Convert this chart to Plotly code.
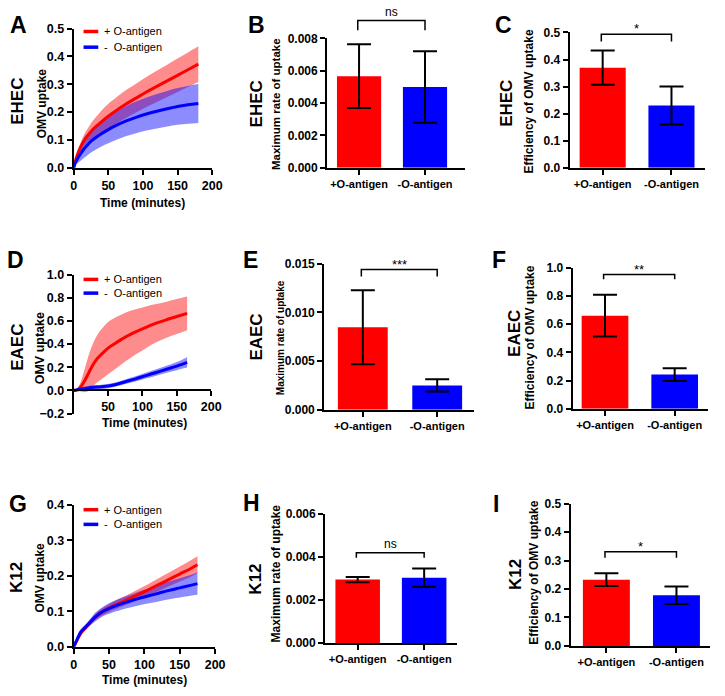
import plotly.graph_objects as go

W, H = 725, 696
FONT = "Liberation Sans, Arial, sans-serif"
RED = "#ff0000"
BLUE = "#0000ff"
RED_BAND = "rgba(255,0,0,0.45)"
BLUE_BAND = "rgba(0,0,255,0.45)"

# ---------------- data ----------------
# Panel A (EHEC kinetics)
ehec_time = [0, 2, 5, 10, 15, 20, 25, 30, 40, 50, 60, 75, 90, 105, 120, 135, 150, 165, 180]
ehec_plus_mean = [0, 0.02, 0.045, 0.075, 0.098, 0.115, 0.13, 0.143, 0.165, 0.185, 0.203, 0.228, 0.25, 0.272, 0.292, 0.312, 0.332, 0.352, 0.372]
ehec_plus_sd = [0, 0.005, 0.01, 0.015, 0.02, 0.025, 0.03, 0.033, 0.04, 0.045, 0.047, 0.05, 0.052, 0.054, 0.056, 0.058, 0.06, 0.062, 0.064]
ehec_minus_mean = [0, 0.015, 0.03, 0.05, 0.068, 0.082, 0.095, 0.105, 0.122, 0.137, 0.15, 0.167, 0.181, 0.193, 0.203, 0.212, 0.22, 0.226, 0.231]
ehec_minus_sd = [0, 0.008, 0.015, 0.025, 0.032, 0.037, 0.04, 0.043, 0.046, 0.049, 0.051, 0.054, 0.057, 0.059, 0.062, 0.064, 0.066, 0.068, 0.07]

# Panel D (EAEC kinetics)
eaec_time = [0, 5, 10, 15, 20, 25, 30, 35, 40, 50, 60, 75, 90, 105, 120, 135, 150, 165]
eaec_plus_mean = [0, 0.005, 0.03, 0.075, 0.13, 0.19, 0.24, 0.28, 0.31, 0.365, 0.405, 0.46, 0.505, 0.545, 0.58, 0.61, 0.638, 0.665]
eaec_plus_sd = [0, 0.01, 0.04, 0.09, 0.14, 0.17, 0.19, 0.205, 0.215, 0.225, 0.222, 0.21, 0.195, 0.18, 0.165, 0.155, 0.15, 0.145]
eaec_minus_mean = [0, 0.005, 0.01, 0.015, 0.02, 0.025, 0.028, 0.03, 0.032, 0.038, 0.05, 0.075, 0.1, 0.128, 0.155, 0.183, 0.21, 0.242]
eaec_minus_sd = [0, 0.01, 0.015, 0.018, 0.018, 0.018, 0.018, 0.018, 0.018, 0.018, 0.018, 0.02, 0.022, 0.025, 0.028, 0.03, 0.035, 0.045]

# Panel G (K12 kinetics)
k12_time = [0, 5, 10, 15, 20, 25, 30, 40, 50, 60, 75, 90, 105, 120, 135, 150, 165, 175]
k12_plus_mean = [0, 0.02, 0.038, 0.05, 0.062, 0.073, 0.083, 0.098, 0.109, 0.119, 0.132, 0.146, 0.16, 0.175, 0.19, 0.205, 0.22, 0.231]
k12_plus_sd = [0, 0.003, 0.005, 0.006, 0.007, 0.008, 0.009, 0.01, 0.011, 0.012, 0.013, 0.015, 0.016, 0.018, 0.019, 0.021, 0.023, 0.024]
k12_minus_mean = [0, 0.022, 0.042, 0.052, 0.062, 0.073, 0.083, 0.098, 0.108, 0.116, 0.126, 0.135, 0.143, 0.151, 0.159, 0.166, 0.173, 0.178]
k12_minus_sd = [0, 0.005, 0.008, 0.008, 0.009, 0.01, 0.012, 0.013, 0.015, 0.016, 0.017, 0.019, 0.021, 0.023, 0.025, 0.027, 0.029, 0.031]

# Bar panels
groups = ["+O-antigen", "-O-antigen"]
ehec_rate_mean = [0.00566, 0.00499]
ehec_rate_sd = [0.00197, 0.00221]
ehec_eff_mean = [0.37, 0.23]
ehec_eff_sd = [0.063, 0.07]
eaec_rate_mean = [0.00847, 0.0025]
eaec_rate_sd = [0.0038, 0.00063]
eaec_eff_mean = [0.66, 0.2425]
eaec_eff_sd = [0.148, 0.045]
k12_rate_mean = [0.00294, 0.00303]
k12_rate_sd = [0.00012, 0.00042]
k12_eff_mean = [0.233, 0.178]
k12_eff_sd = [0.0225, 0.031]

sig_labels = {"B": "ns", "C": "*", "E": "***", "F": "**", "H": "ns", "I": "*"}
legend_labels = ["+ O-antigen", "-\u00a0\u00a0O-antigen"]
x_title = "Time (minutes)"
kin_ytitle = "OMV uptake"
rate_ytitle = "Maximum rate of uptake"
eff_ytitle = "Efficiency of OMV uptake"
strains = ["EHEC", "EAEC", "K12"]

# ---------------- layout helpers ----------------
def px2x(p):
    return p / W

def px2y(p):
    return 1 - p / H

# pixel boxes: left, right, top, bottom
boxes = {
    1: (72, 213, 22, 164),
    2: (330, 470, 32, 164),
    3: (577, 715, 26, 164),
    4: (72, 212, 273, 415),
    5: (327, 480, 262, 411),
    6: (580, 718, 266, 410),
    7: (72, 216, 508, 653),
    8: (328, 462, 517, 649),
    9: (578, 720, 507, 652),
}
xranges = {1: [0, 200], 2: [-0.485, 1.6], 3: [-0.48, 1.49], 4: [0, 200], 5: [-0.52, 1.5],
           6: [-0.465, 1.48], 7: [0, 200], 8: [-0.49, 1.49], 9: [-0.51, 1.48]}
yranges = {1: [0, 0.5], 2: [0, 0.008], 3: [0, 0.5], 4: [-0.2, 1.0], 5: [0, 0.015],
           6: [0, 1.0], 7: [0, 0.4], 8: [0, 0.006], 9: [0, 0.5]}
ydticks = {1: 0.1, 2: 0.002, 3: 0.1, 4: 0.2, 5: 0.005, 6: 0.2, 7: 0.1, 8: 0.002, 9: 0.1}
yfmt = {1: ".1f", 2: ".3f", 3: ".1f", 4: ".1f", 5: ".3f", 6: ".1f", 7: ".1f", 8: ".3f", 9: ".1f"}

def dom(i):
    l, r, t, b = boxes[i]
    return [px2x(l), px2x(r)], [px2y(b), px2y(t)]

def data2paper(i, xv, yv):
    xd, yd = dom(i)
    xr, yr = xranges[i], yranges[i]
    xp = xd[0] + (xv - xr[0]) / (xr[1] - xr[0]) * (xd[1] - xd[0])
    yp = yd[0] + (yv - yr[0]) / (yr[1] - yr[0]) * (yd[1] - yd[0])
    return xp, yp

def sfx(i):
    return "" if i == 1 else str(i)

fig = go.Figure()

layout = dict(
    width=W, height=H, autosize=False,
    margin=dict(l=0, r=0, t=0, b=0),
    paper_bgcolor="white", plot_bgcolor="white",
    showlegend=False,
    font=dict(family=FONT, color="black"),
)

for i in range(1, 10):
    xd, yd = dom(i)
    s = sfx(i)
    kin = i in (1, 4, 7)
    tf = dict(family=FONT, size=12.5 if kin else 12, color="black", weight="bold")
    xa = dict(domain=xd, range=xranges[i], anchor="y" + s, showline=True, linecolor="black",
              linewidth=2, ticks="outside", ticklen=5, tickwidth=2, tickcolor="black",
              showgrid=False, zeroline=False, tickfont=tf, fixedrange=True)
    ya = dict(domain=yd, range=yranges[i], anchor="x" + s, showline=True, linecolor="black",
              linewidth=2, ticks="outside", ticklen=5, tickwidth=2, tickcolor="black",
              showgrid=False, zeroline=False, tickfont=tf, dtick=ydticks[i],
              tick0=0, tickformat=yfmt[i], fixedrange=True)
    if kin:
        xa.update(tickvals=[0, 50, 100, 150, 200] if i != 4 else [50, 100, 150, 200])
    else:
        xa.update(tickvals=[0, 1], ticktext=groups, tickfont=dict(family=FONT, size=11, color="black", weight="bold"))
    if i == 4:
        _, ypos = data2paper(4, 0, 0)
        xa.update(anchor="free", position=ypos)
        ya.update(tickvals=[-0.2, 0, 0.2, 0.4, 0.6, 0.8, 1.0])
    layout["xaxis" + s] = xa
    layout["yaxis" + s] = ya

fig.update_layout(**layout)

# ---------------- kinetics panels ----------------
def add_kinetics(i, t, pm, ps, mm, ms):
    s = sfx(i)
    for mean, sd, band in ((pm, ps, RED_BAND), (mm, ms, BLUE_BAND)):
        lo = [m - d for m, d in zip(mean, sd)]
        hi = [m + d for m, d in zip(mean, sd)]
        fig.add_trace(go.Scatter(x=t, y=lo, mode="lines", line=dict(width=0, color=band, shape="spline"),
                                 xaxis="x" + s, yaxis="y" + s, hoverinfo="skip"))
        fig.add_trace(go.Scatter(x=t, y=hi, mode="lines", line=dict(width=0, color=band, shape="spline"),
                                 fill="tonexty", fillcolor=band, xaxis="x" + s, yaxis="y" + s,
                                 hoverinfo="skip"))
    fig.add_trace(go.Scatter(x=t, y=pm, mode="lines", line=dict(width=3, color=RED, shape="spline"),
                             name=legend_labels[0], xaxis="x" + s, yaxis="y" + s))
    fig.add_trace(go.Scatter(x=t, y=mm, mode="lines", line=dict(width=3, color=BLUE, shape="spline"),
                             name=legend_labels[1], xaxis="x" + s, yaxis="y" + s))

add_kinetics(1, ehec_time, ehec_plus_mean, ehec_plus_sd, ehec_minus_mean, ehec_minus_sd)
add_kinetics(4, eaec_time, eaec_plus_mean, eaec_plus_sd, eaec_minus_mean, eaec_minus_sd)
add_kinetics(7, k12_time, k12_plus_mean, k12_plus_sd, k12_minus_mean, k12_minus_sd)

# ---------------- bar panels ----------------
def add_bars(i, means, sds):
    s = sfx(i)
    fig.add_trace(go.Bar(x=[0, 1], y=means, width=0.67, marker=dict(color=[RED, BLUE], line=dict(width=0)),
                         error_y=dict(type="data", array=sds, visible=True, color="black",
                                      thickness=2, width=12),
                         xaxis="x" + s, yaxis="y" + s))

add_bars(2, ehec_rate_mean, ehec_rate_sd)
add_bars(3, ehec_eff_mean, ehec_eff_sd)
add_bars(5, eaec_rate_mean, eaec_rate_sd)
add_bars(6, eaec_eff_mean, eaec_eff_sd)
add_bars(8, k12_rate_mean, k12_rate_sd)
add_bars(9, k12_eff_mean, k12_eff_sd)

shapes = []
annotations = []

# significance brackets (bracket heights in data units)
brackets = {2: ("B", 0.0091, 0.0085), 3: ("C", 0.493, 0.467), 5: ("E", 0.0144, 0.0137),
            6: ("F", 0.951, 0.917), 8: ("H", 0.00418, 0.00395), 9: ("I", 0.331, 0.310)}
for i, (key, ytop, ybot) in brackets.items():
    x0, y0 = data2paper(i, -0.02, ytop)
    x1, _ = data2paper(i, 1.0, ytop)
    _, yb = data2paper(i, 0, ybot)
    shapes.append(dict(type="path", xref="paper", yref="paper",
                       path=f"M {x0},{yb} L {x0},{y0} L {x1},{y0} L {x1},{yb}",
                       line=dict(color="black", width=1.5)))
    txt_ = sig_labels[key]
    star = "*" in txt_
    annotations.append(dict(xref="paper", yref="paper", x=(x0 + x1) / 2, y=y0,
                            text=txt_, showarrow=False, xanchor="center", yanchor="bottom",
                            yshift=-4 if star else 0,
                            font=dict(family=FONT, size=13 if star else 12, color="black")))

# legends for kinetics panels (pixel positions)
for (yr, yb) in ((25, 41), (278, 292), (513, 528)):
    for yy, col, lab in ((yr, RED, legend_labels[0]), (yb, BLUE, legend_labels[1])):
        shapes.append(dict(type="line", xref="paper", yref="paper", x0=px2x(82), x1=px2x(97),
                           y0=px2y(yy), y1=px2y(yy), line=dict(color=col, width=3.5)))
        annotations.append(dict(xref="paper", yref="paper", x=px2x(101), y=px2y(yy), text=lab,
                                showarrow=False, xanchor="left", yanchor="middle",
                                font=dict(family=FONT, size=11, color="black")))

def txt(x, y, text, size, angle=0, bold=True):
    annotations.append(dict(xref="paper", yref="paper", x=px2x(x), y=px2y(y), text=text,
                            showarrow=False, xanchor="center", yanchor="middle", textangle=angle,
                            font=dict(family=FONT, size=size, color="black",
                                      weight="bold" if bold else "normal")))

# panel letters
for letter, (x, y) in zip("ABCDEFGHI", [(16, 18), (258, 18), (510, 18), (13, 258), (252, 258),
                                        (505, 258), (15, 507), (253, 506), (502, 507)]):
    txt(x, y, letter, 23)

# strain labels
for name, pos in zip(strains, [[(14, 96), (258, 99), (512, 98)],
                               [(14, 347), (258, 337), (521, 333)],
                               [(14, 582), (257, 584), (522, 579)]]):
    for (x, y) in pos:
        txt(x, y, name, 17, -90)

# y axis titles
for (x, y, t, sz) in [(40, 98, kin_ytitle, 12), (278, 99, rate_ytitle, 11.5), (536, 96, eff_ytitle, 12),
                      (38, 348, kin_ytitle, 12.5), (282, 337, rate_ytitle, 10), (537, 337, eff_ytitle, 12),
                      (38, 582, kin_ytitle, 12), (278, 578, rate_ytitle, 12), (541, 577, eff_ytitle, 12)]:
    txt(x, y, t, sz, -90)

# x axis titles
for (x, y) in [(142, 200), (144, 425), (144, 687)]:
    txt(x, y, x_title, 12)

fig.update_layout(shapes=shapes, annotations=annotations)
fig.write_html("out.html", config={"displayModeBar": False},
               post_script="document.body.style.margin='0px';")
